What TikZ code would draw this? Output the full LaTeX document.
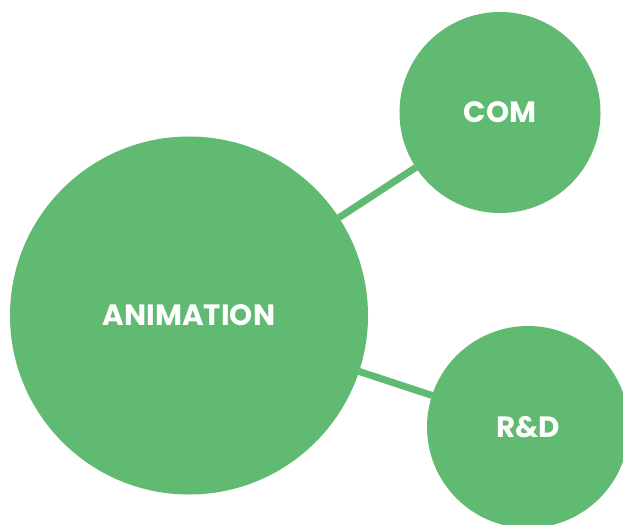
\documentclass[tikz,border=0pt]{standalone}
\usepackage{fontspec}
\setmainfont{Poppins}[BoldFont={* Bold}]
\definecolor{leaf}{HTML}{61BA71}
\begin{document}
\begin{tikzpicture}[x=1bp, y=-1bp,
  bubble/.style={circle, fill=leaf, inner sep=0pt, outer sep=0pt, text=white,
    font=\bfseries\fontsize{29.5}{31}\selectfont},
  link/.style={draw=leaf, line width=7bp}]
\useasboundingbox (0,0) rectangle (623,525);

% the three bubbles
\node[bubble, minimum size=358bp] (anim) at (189,315.5) {ANIMATION};
\node[bubble, minimum size=201bp] (com) at (500,112.5) {COM};
\node[bubble, minimum size=202bp] (rnd) at (528,427) {R\&D};

% links
\draw[link] (anim) -- (com);
\draw[link] (anim) -- (rnd);

\end{tikzpicture}
\end{document}
